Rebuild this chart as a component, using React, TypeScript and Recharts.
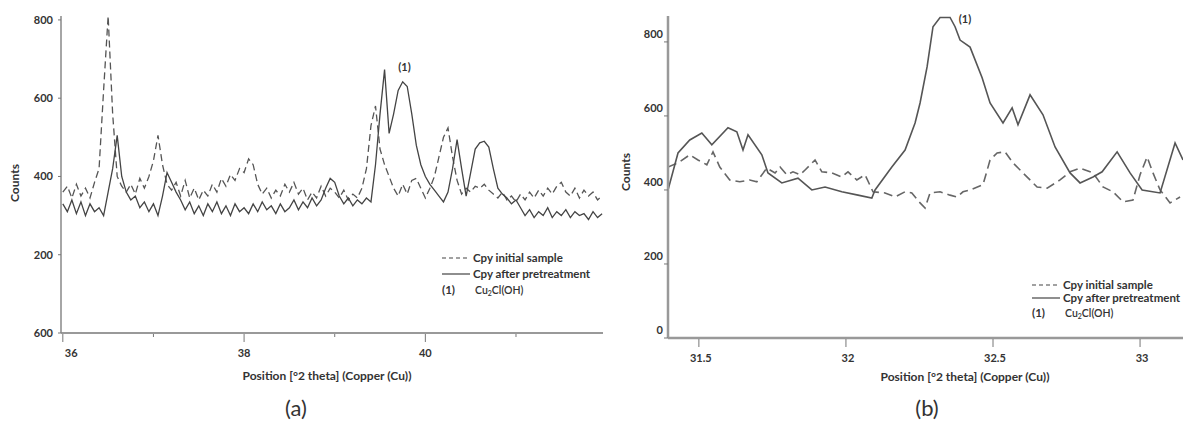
import { Label, Line, LineChart, ReferenceDot, XAxis, YAxis } from "recharts";

// panel (a): 2 theta positions and counts
const positionsA = [
  36.0, 36.05, 36.1, 36.15, 36.2, 36.25, 36.3, 36.35, 36.4, 36.45,
  36.5, 36.55, 36.6, 36.65, 36.7, 36.75, 36.8, 36.85, 36.9, 36.95,
  37.0, 37.05, 37.1, 37.15, 37.2, 37.25, 37.3, 37.35, 37.4, 37.45,
  37.5, 37.55, 37.6, 37.65, 37.7, 37.75, 37.8, 37.85, 37.9, 37.95,
  38.0, 38.05, 38.1, 38.15, 38.2, 38.25, 38.3, 38.35, 38.4, 38.45,
  38.5, 38.55, 38.6, 38.65, 38.7, 38.75, 38.8, 38.85, 38.9, 38.95,
  39.0, 39.05, 39.1, 39.15, 39.2, 39.25, 39.3, 39.35, 39.4, 39.45,
  39.5, 39.55, 39.6, 39.65, 39.7, 39.75, 39.8, 39.85, 39.9, 39.95,
  40.0, 40.05, 40.1, 40.15, 40.2, 40.25, 40.3, 40.35, 40.4, 40.45,
  40.5, 40.55, 40.6, 40.65, 40.7, 40.75, 40.8, 40.85, 40.9, 40.95,
  41.0, 41.05, 41.1, 41.15, 41.2, 41.25, 41.3, 41.35, 41.4, 41.45,
  41.5, 41.55, 41.6, 41.65, 41.7, 41.75, 41.8, 41.85, 41.9, 41.95,
];
const initialA = [
  360, 375, 345, 380, 350, 370, 345, 385, 420, 620,
  810, 560, 400, 375, 360, 380, 355, 395, 370, 400,
  440, 505, 430, 380, 365, 385, 350, 390, 345, 370,
  340, 365, 350, 380, 360, 395, 375, 405, 390, 420,
  410, 445, 430, 380, 355, 370, 345, 365, 350, 380,
  360, 385, 355, 370, 340, 360, 345, 375, 350, 370,
  360, 345, 365, 340, 355, 345, 370, 420, 530, 580,
  470, 430, 400, 370, 350, 380, 355, 390, 395, 370,
  345, 370, 400, 450, 500, 524, 450, 390, 355, 370,
  360, 375, 370, 380, 365, 355, 345, 360, 340, 350,
  335, 355, 340, 360, 345, 365, 350, 370, 355, 375,
  385, 360, 350, 370, 345, 365, 350, 360, 340, 350,
];
const afterA = [
  330, 310, 340, 305, 335, 300, 330, 310, 320, 300,
  360, 420, 505, 400, 360, 340, 350, 320, 335, 310,
  330, 300, 350, 410, 385, 360, 340, 315, 335, 305,
  325, 300, 330, 310, 335, 305, 325, 300, 330, 310,
  320, 305, 330, 310, 335, 315, 325, 305, 330, 310,
  320, 340, 315, 335, 320, 345, 325, 340, 370, 395,
  385, 350, 330, 345, 325, 340, 330, 345, 335, 430,
  560, 673, 510, 560, 620, 642, 630, 560, 480, 430,
  400, 380, 365, 350, 335, 360, 420, 494, 420, 350,
  410, 470, 486, 490, 475, 420, 370, 355, 345, 330,
  340, 320, 300, 315, 295, 310, 300, 320, 295, 310,
  300, 315, 295, 310, 300, 305, 290, 310, 295, 305,
];
const yTicksA = [0, 200, 400, 600, 800];
const yTickLabelsA = ["600", "200", "400", "600", "800"];
const xTicksA = [36, 37, 38, 39, 40, 41];
const xTickLabelsA = ["36", "", "38", "", "40", ""];

// panel (b)
const positionsInitialB = [
  31.395, 31.429, 31.469, 31.497, 31.527, 31.548, 31.571, 31.605, 31.639, 31.673,
  31.697, 31.731, 31.759, 31.776, 31.799, 31.82, 31.844, 31.861, 31.895, 31.918,
  31.952, 31.986, 32.007, 32.037, 32.065, 32.092, 32.133, 32.167, 32.201, 32.224,
  32.252, 32.269, 32.286, 32.32, 32.354, 32.378, 32.398, 32.422, 32.466, 32.49,
  32.514, 32.541, 32.568, 32.602, 32.65, 32.684, 32.728, 32.762, 32.796, 32.84,
  32.874, 32.908, 32.942, 32.976, 33.0, 33.024, 33.044, 33.068, 33.102, 33.136,
];
const initialB = [
  462, 473, 495, 481, 468, 503, 462, 427, 422, 427,
  422, 459, 446, 462, 441, 449, 441, 454, 481, 449,
  446, 435, 449, 427, 441, 395, 392, 381, 395, 392,
  365, 351, 392, 395, 386, 381, 395, 400, 414, 481,
  500, 503, 473, 446, 408, 405, 427, 449, 459, 446,
  408, 395, 368, 373, 441, 489, 446, 400, 365, 381,
];
const positionsAfterB = [
  31.395, 31.429, 31.469, 31.51, 31.544, 31.599, 31.629, 31.65, 31.667, 31.714,
  31.735, 31.782, 31.837, 31.884, 31.929, 31.986, 32.041, 32.088, 32.099, 32.156,
  32.201, 32.235, 32.252, 32.276, 32.296, 32.32, 32.354, 32.371, 32.388, 32.422,
  32.463, 32.49, 32.534, 32.565, 32.585, 32.626, 32.67, 32.711, 32.762, 32.796,
  32.84, 32.871, 32.922, 32.966, 33.007, 33.068, 33.119, 33.146,
];
const afterB = [
  400, 500, 535, 554, 522, 568, 557, 508, 549, 495,
  446, 419, 432, 400, 408, 395, 386, 378, 400, 462,
  508, 581, 635, 733, 841, 866, 866, 841, 805, 786,
  703, 635, 581, 622, 576, 657, 603, 516, 446, 419,
  435, 449, 503, 446, 400, 392, 527, 481,
];
const yTicksB = [0, 200, 400, 600, 800];
const xTicksB = [31.5, 32, 32.5, 33];
const xTickLabelsB = ["31.5", "32", "32.5", "33"];

const FONT = "Lato, 'Open Sans', sans-serif";
const INK = "#333";

const toPoints = (xs: number[], ys: number[]) => xs.map((x, i) => ({ x, y: ys[i] }));

function Txt({
  x,
  y,
  size = 11.5,
  weight = 700,
  rotate = 0,
  anchor = "center",
  children,
}: {
  x: number;
  y: number;
  size?: number;
  weight?: number;
  rotate?: number;
  anchor?: "center" | "start";
  children: React.ReactNode;
}) {
  const tx = anchor === "center" ? "-50%" : "0";
  return (
    <div
      style={{
        position: "absolute",
        left: x,
        top: y,
        transform: `translate(${tx}, -50%) rotate(${rotate}deg)`,
        fontFamily: FONT,
        fontSize: size,
        fontWeight: weight,
        color: INK,
        whiteSpace: "nowrap",
        lineHeight: 1,
      }}
    >
      {children}
    </div>
  );
}

function LegendRows({ x, rows }: { x: number; rows: number[] }) {
  return (
    <>
      <svg style={{ position: "absolute", left: x, top: rows[0] - 3 }} width={30} height={6}>
        <line x1={0} x2={28} y1={3} y2={3} stroke="#444" strokeWidth={1.2} strokeDasharray="4 3" />
      </svg>
      <Txt x={x + 31} y={rows[0]} anchor="start">Cpy initial sample</Txt>
      <svg style={{ position: "absolute", left: x, top: rows[1] - 3 }} width={30} height={6}>
        <line x1={0} x2={28} y1={3} y2={3} stroke="#444" strokeWidth={1.2} />
      </svg>
      <Txt x={x + 31} y={rows[1]} anchor="start">Cpy after pretreatment</Txt>
      <Txt x={x} y={rows[2]} anchor="start">(1)</Txt>
      <Txt x={x + 33} y={rows[2]} anchor="start" weight={600} size={10.5}>
        Cu
        <span style={{ fontSize: 7, position: "relative", top: 2 }}>2</span>
        Cl(OH)
      </Txt>
    </>
  );
}

function PanelA() {
  const yTickA = ({ y, payload }: any) => {
    const i = yTicksA.indexOf(payload.value);
    return (
      <g>
        <line x1={58} x2={61} y1={y} y2={y} stroke="#777" />
        <text x={53} y={y} dy={4} textAnchor="end" fontSize={11} fontWeight={700} fill={INK} fontFamily={FONT}>
          {yTickLabelsA[i]}
        </text>
      </g>
    );
  };
  const xTickA = ({ x, payload }: any) => {
    const i = xTicksA.indexOf(payload.value);
    const label = xTickLabelsA[i];
    return (
      <g>
        <line x1={x} x2={x} y1={334} y2={label ? 342 : 337} stroke="#777" />
        <text
          x={i === 0 ? x + 2 : x}
          y={357}
          textAnchor={i === 0 ? "start" : "middle"}
          fontSize={11}
          fontWeight={700}
          fill={INK}
          fontFamily={FONT}
        >
          {label}
        </text>
      </g>
    );
  };
  return (
    <LineChart width={620} height={421} margin={{ top: 16, right: 17, bottom: 58, left: 21 }}>
      <XAxis
        type="number"
        dataKey="x"
        domain={[35.98, 41.96]}
        ticks={xTicksA}
        tick={xTickA}
        tickLine={false}
        axisLine={{ stroke: "#777", strokeWidth: 1.5 }}
        height={30}
        allowDataOverflow
      />
      <YAxis
        type="number"
        dataKey="y"
        domain={[0, 810]}
        ticks={yTicksA}
        tick={yTickA}
        tickLine={false}
        axisLine={{ stroke: "#888", strokeWidth: 1.5 }}
        width={40}
        allowDataOverflow
      />
      <Line
        data={toPoints(positionsA, initialA)}
        dataKey="y"
        stroke="#555"
        strokeWidth={1.3}
        strokeDasharray="7 4"
        dot={false}
        isAnimationActive={false}
      />
      <Line
        data={toPoints(positionsA, afterA)}
        dataKey="y"
        stroke="#444"
        strokeWidth={1.3}
        dot={false}
        isAnimationActive={false}
      />
      <ReferenceDot x={39.77} y={680} r={1} fill="none" stroke="none" ifOverflow="visible">
        <Label value="(1)" position="center" fill={INK} fontSize={11} fontWeight={700} fontFamily={FONT} />
      </ReferenceDot>
    </LineChart>
  );
}

function PanelB() {
  const yTickB = ({ y, payload }: any) => (
    <g>
      <line x1={44} x2={48} y1={y} y2={y} stroke="#777" />
      <text x={43} y={y} dy={-4} textAnchor="end" fontSize={11} fontWeight={700} fill={INK} fontFamily={FONT}>
        {payload.value}
      </text>
    </g>
  );
  const xTickB = ({ x, payload }: any) => {
    const i = xTicksB.indexOf(payload.value);
    return (
      <g>
        <line x1={x} x2={x} y1={339} y2={347} stroke="#777" />
        <text x={x + 2} y={362} textAnchor="middle" fontSize={11} fontWeight={700} fill={INK} fontFamily={FONT}>
          {xTickLabelsB[i]}
        </text>
      </g>
    );
  };
  return (
    <LineChart width={563} height={421} margin={{ top: 16, right: 0, bottom: 53, left: 8 }}>
      <XAxis
        type="number"
        dataKey="x"
        domain={[31.395, 33.146]}
        ticks={xTicksB}
        tick={xTickB}
        tickLine={false}
        axisLine={{ stroke: "#999", strokeWidth: 2.5 }}
        height={30}
        allowDataOverflow
      />
      <YAxis
        type="number"
        dataKey="y"
        domain={[0, 870]}
        ticks={yTicksB}
        tick={yTickB}
        tickLine={false}
        axisLine={{ stroke: "#999", strokeWidth: 2.5 }}
        width={40}
        allowDataOverflow
      />
      <Line
        data={toPoints(positionsInitialB, initialB)}
        dataKey="y"
        stroke="#666"
        strokeWidth={1.6}
        strokeDasharray="9 5"
        dot={false}
        isAnimationActive={false}
      />
      <Line
        data={toPoints(positionsAfterB, afterB)}
        dataKey="y"
        stroke="#555"
        strokeWidth={1.6}
        dot={false}
        isAnimationActive={false}
      />
      <ReferenceDot x={32.405} y={862} r={1} fill="none" stroke="none" ifOverflow="visible">
        <Label value="(1)" position="center" fill={INK} fontSize={11} fontWeight={700} fontFamily={FONT} />
      </ReferenceDot>
    </LineChart>
  );
}

export default function App() {
  return (
    <div
      style={{
        position: "absolute",
        left: 0,
        top: 0,
        width: 1183,
        height: 421,
        background: "#fff",
        overflow: "hidden",
      }}
    >
      <div style={{ position: "absolute", left: 0, top: 0 }}>
        <PanelA />
      </div>
      <div style={{ position: "absolute", left: 620, top: 0 }}>
        <PanelB />
      </div>

      <Txt x={15} y={183} rotate={-90} size={12}>Counts</Txt>
      <Txt x={327} y={376} size={12}>Position [°2 theta] (Copper (Cu))</Txt>
      <Txt x={296} y={408} size={22} weight={400}>(a)</Txt>
      <LegendRows x={442} rows={[258, 274, 290]} />

      <Txt x={626} y={172} rotate={-90} size={12}>Counts</Txt>
      <Txt x={965} y={377} size={12}>Position [°2 theta] (Copper (Cu))</Txt>
      <Txt x={927} y={408} size={22} weight={400}>(b)</Txt>
      <LegendRows x={1032} rows={[285, 298, 313]} />
    </div>
  );
}
